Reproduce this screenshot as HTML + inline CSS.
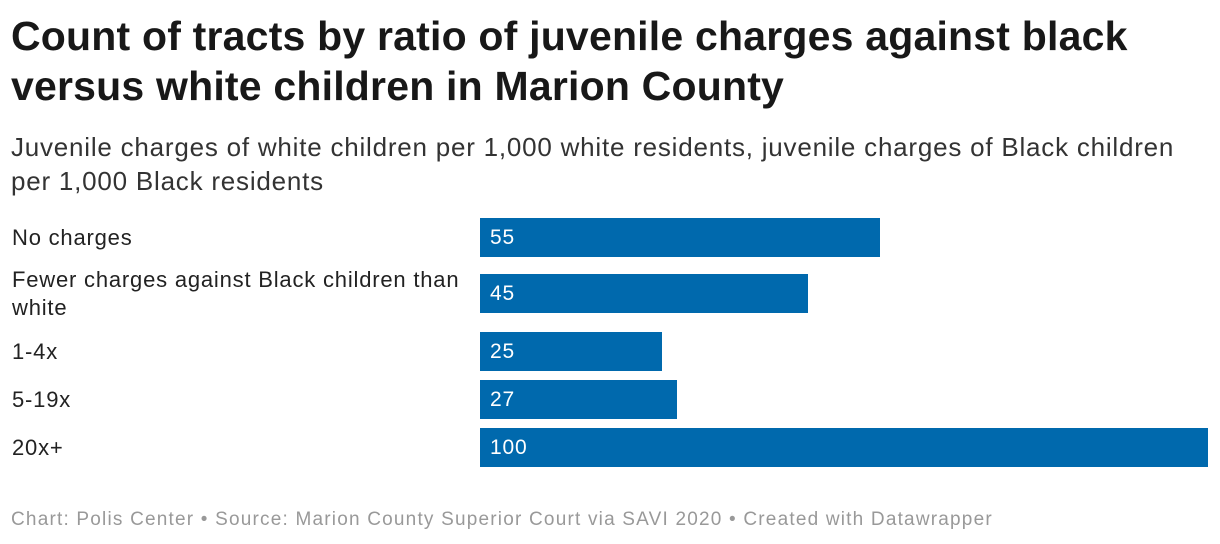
<!DOCTYPE html>
<html><head><meta charset="utf-8"><style>
body{margin:0;width:1220px;height:544px;background:#fff;font-family:"Liberation Sans",sans-serif;color:#181818;position:relative;overflow:hidden}
#title{position:absolute;left:11px;top:11px;font-size:41px;font-weight:bold;line-height:50px;letter-spacing:0.2px;width:1135px}
#sub{position:absolute;left:11px;top:130px;font-size:26px;line-height:34px;color:#333;width:1190px;letter-spacing:0.78px}
#foot{position:absolute;left:11px;top:509px;font-size:19px;color:#999;letter-spacing:1.2px;white-space:nowrap}
.lab{position:absolute;left:12px;font-size:22px;line-height:28px;width:466px;color:#222;letter-spacing:0.8px}
.bar{position:absolute;background:#0069ad;height:39px}
.val{position:absolute;color:#fff;font-size:21px;line-height:39px;letter-spacing:0.8px}
</style></head><body>
<div id="title">Count of tracts by ratio of juvenile charges against black versus white children in Marion County</div>
<div id="sub">Juvenile charges of white children per 1,000 white residents, juvenile charges of Black children per 1,000 Black residents</div>
<div id="chart"></div>
<div id="foot">Chart: Polis Center • Source: Marion County Superior Court via SAVI 2020 • Created with Datawrapper</div>
<script>
const categories=["No charges","Fewer charges against Black children than white","1-4x","5-19x","20x+"];
const values=[55,45,25,27,100];
const barTops=[218,274,332,380,428];
const x0=480,xMax=1208,maxV=100;
function xs(v){return (v/maxV)*(xMax-x0);}
const c=document.getElementById('chart');
categories.forEach((cat,i)=>{
  const top=barTops[i];
  const l=document.createElement('div');l.className='lab';
  
  
  l.textContent=cat;
  const twoLine=cat.length>40;
  l.style.top=(twoLine?top-8:top+6)+'px';
  c.appendChild(l);
  const b=document.createElement('div');b.className='bar';
  
  
  b.style.left=x0+'px';b.style.top=top+'px';b.style.width=xs(values[i])+'px';
  c.appendChild(b);
  const v=document.createElement('div');v.className='val';
  
  
  v.textContent=values[i];
  v.style.left=(x0+10)+'px';v.style.top=top+'px';
  c.appendChild(v);
});
</script>
</body></html>
